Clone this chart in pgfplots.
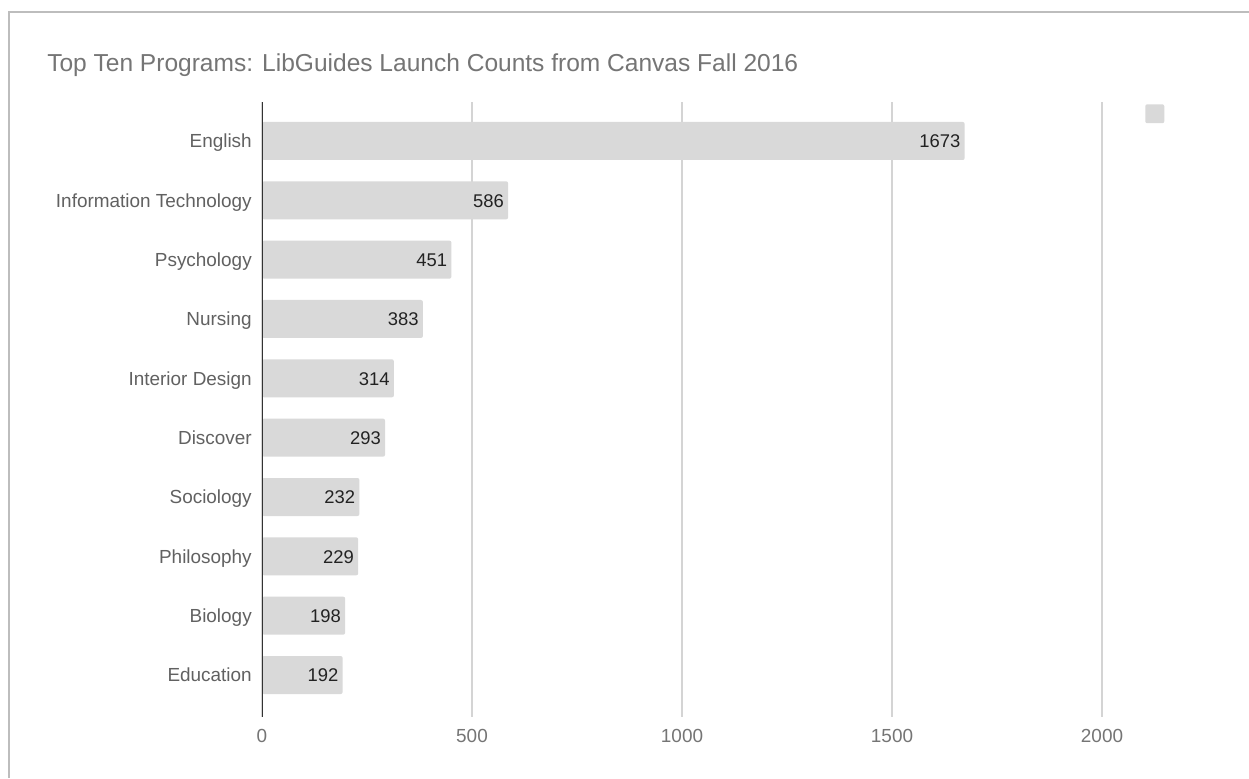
\documentclass[border=0pt]{standalone}
\usepackage{fontspec}
\setmainfont{Liberation Sans}
\usepackage{pgfplots}
\pgfplotsset{compat=1.18}
\definecolor{barc}{HTML}{D9D9D9}
\definecolor{gridc}{HTML}{D4D4D4}
\definecolor{titlec}{HTML}{757575}
\definecolor{labc}{HTML}{616161}
\definecolor{valc}{HTML}{222222}
\definecolor{axc}{HTML}{333333}
\definecolor{framec}{HTML}{BDBDBD}
\begin{document}
\begin{tikzpicture}[x=0.75pt,y=-0.75pt]
\useasboundingbox (0,0) rectangle (1249,778);
\fill[white] (0,0) rectangle (1249,778);
\draw[framec, line width=1.5pt] (9,778) -- (9,12) -- (1249,12);
\node[anchor=base west, inner sep=0pt, text=titlec, font=\fontsize{18.4pt}{22pt}\selectfont] at (47,71) {Top Ten Programs: LibGuides Launch Counts from Canvas Fall 2016};
\begin{axis}[
  at={(196.5pt,-537.75pt)}, anchor=south west,
  scale only axis, width=630pt, height=461.25pt,
  xbar, bar width=28.5pt,
  xmin=0, xmax=2000,
  ymin=-0.657, ymax=9.708, y dir=reverse,
  axis line style={draw=none},
  major tick length=0pt,
  /pgf/number format/assume math mode=true,
  /pgf/number format/1000 sep={},
  xtick={0,500,1000,1500,2000},
  ytick={0,1,2,3,4,5,6,7,8,9},
  yticklabels={English,Information Technology,Psychology,Nursing,Interior Design,Discover,Sociology,Philosophy,Biology,Education},
  xmajorgrids, ymajorgrids=false,
  grid style={gridc, line width=1pt},
  tick label style={font=\fontsize{14.2pt}{17pt}\selectfont, inner sep=0pt},
  xticklabel style={text=titlec, anchor=base, yshift=-18.75pt},
  yticklabel style={text=labc, anchor=base east, xshift=-7.5pt, yshift=-5.2pt},
  legend style={at={(1.0512,0.9967)}, anchor=north west, draw=none, fill=none, inner sep=0pt, nodes={inner sep=0pt}},
  legend image code/.code={\fill[barc] (0pt,-7.1pt) rectangle (14.25pt,7.1pt);},
  nodes near coords,
  every node near coord/.append style={anchor=base east, text=valc, inner sep=0pt, xshift=-3pt, yshift=-5.2pt, font=\fontsize{13.8pt}{17pt}\selectfont},
]
\addplot[fill=barc, draw=none, rounded corners=1.5pt] coordinates {
(1673,0) (586,1) (451,2) (383,3) (314,4) (293,5) (232,6) (229,7) (198,8) (192,9)
};
\addlegendentry{}
\draw[axc, line width=1.1pt] (rel axis cs:0,0) -- (rel axis cs:0,1);
\end{axis}
\end{tikzpicture}
\end{document}
